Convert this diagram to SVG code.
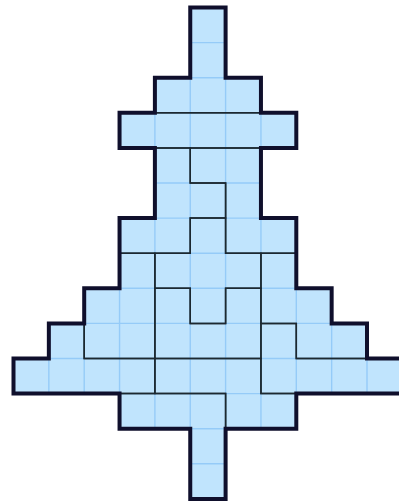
<svg xmlns="http://www.w3.org/2000/svg" width="399" height="502" viewBox="0 0 399 502">
<style>
.pc{fill:#c0e4fd;stroke:none}
.grid line{stroke:#95cbf8;stroke-width:1.4;vector-effect:non-scaling-stroke}
.edge path{fill:none;stroke:#1c2830;stroke-width:1.5;stroke-linejoin:miter;vector-effect:non-scaling-stroke}
.outline{fill:none;stroke:#0f0f2c;stroke-width:4;stroke-linejoin:miter;vector-effect:non-scaling-stroke}
</style>
<defs>
<clipPath id="clip"><path d="M5 0H6V2H7V3H8V4H7V6H8V8H9V9H10V10H11V11H8V12H6V14H5V12H3V11H0V10H1V9H2V8H3V6H4V4H3V3H4V2H5Z"/></clipPath>
</defs>
<g transform="translate(13.5 7.5) scale(35.35 35.1)">
<g id="pieces">
<g id="piece-top"><path class="pc" d="M5 0H6V2H7V3H4V2H5Z"/></g>
<g id="piece-bar"><path class="pc" d="M3 3H8V4H3Z"/></g>
<g id="piece-upper-left"><path class="pc" d="M4 4H5V5H6V6H5V7H3V6H4Z"/></g>
<g id="piece-upper-right"><path class="pc" d="M5 4H7V6H8V7H6V5H5Z"/></g>
<g id="piece-cross"><path class="pc" d="M5 6H6V7H7V8H6V9H5V8H4V7H5Z"/></g>
<g id="piece-u"><path class="pc" d="M4 8H5V9H6V8H7V10H4Z"/></g>
<g id="piece-left-a"><path class="pc" d="M3 7H4V10H2V8H3Z"/></g>
<g id="piece-left-b"><path class="pc" d="M1 9H2V10H4V11H0V10H1Z"/></g>
<g id="piece-right-a"><path class="pc" d="M7 7H8V8H9V9H10V10H8V9H7Z"/></g>
<g id="piece-right-b"><path class="pc" d="M7 9H8V10H11V11H7Z"/></g>
<g id="piece-bottom-mid"><path class="pc" d="M4 10H7V11H8V12H6V11H4Z"/></g>
<g id="piece-bottom-l"><path class="pc" d="M3 11H6V14H5V12H3Z"/></g>
</g>
<g class="grid" clip-path="url(#clip)">
<line x1="1" y1="0" x2="1" y2="14"/><line x1="2" y1="0" x2="2" y2="14"/><line x1="3" y1="0" x2="3" y2="14"/><line x1="4" y1="0" x2="4" y2="14"/><line x1="5" y1="0" x2="5" y2="14"/><line x1="6" y1="0" x2="6" y2="14"/><line x1="7" y1="0" x2="7" y2="14"/><line x1="8" y1="0" x2="8" y2="14"/><line x1="9" y1="0" x2="9" y2="14"/><line x1="10" y1="0" x2="10" y2="14"/>
<line x1="0" y1="1" x2="11" y2="1"/><line x1="0" y1="2" x2="11" y2="2"/><line x1="0" y1="3" x2="11" y2="3"/><line x1="0" y1="4" x2="11" y2="4"/><line x1="0" y1="5" x2="11" y2="5"/><line x1="0" y1="6" x2="11" y2="6"/><line x1="0" y1="7" x2="11" y2="7"/><line x1="0" y1="8" x2="11" y2="8"/><line x1="0" y1="9" x2="11" y2="9"/><line x1="0" y1="10" x2="11" y2="10"/><line x1="0" y1="11" x2="11" y2="11"/><line x1="0" y1="12" x2="11" y2="12"/><line x1="0" y1="13" x2="11" y2="13"/>
</g>
<g id="edges" class="edge">
<path d="M5 0H6V2H7V3H4V2H5Z"/>
<path d="M3 3H8V4H3Z"/>
<path d="M4 4H5V5H6V6H5V7H3V6H4Z"/>
<path d="M5 4H7V6H8V7H6V5H5Z"/>
<path d="M5 6H6V7H7V8H6V9H5V8H4V7H5Z"/>
<path d="M4 8H5V9H6V8H7V10H4Z"/>
<path d="M3 7H4V10H2V8H3Z"/>
<path d="M1 9H2V10H4V11H0V10H1Z"/>
<path d="M7 7H8V8H9V9H10V10H8V9H7Z"/>
<path d="M7 9H8V10H11V11H7Z"/>
<path d="M4 10H7V11H8V12H6V11H4Z"/>
<path d="M3 11H6V14H5V12H3Z"/>
</g>
<path class="outline" d="M5 0H6V2H7V3H8V4H7V6H8V8H9V9H10V10H11V11H8V12H6V14H5V12H3V11H0V10H1V9H2V8H3V6H4V4H3V3H4V2H5Z"/>
</g>
</svg>
